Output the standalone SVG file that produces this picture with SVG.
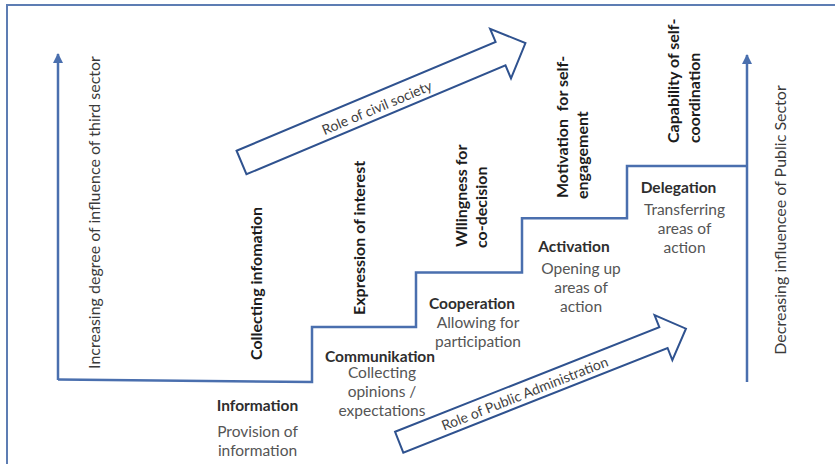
<svg xmlns="http://www.w3.org/2000/svg" width="835" height="464" viewBox="0 0 835 464">
<style>
.line{fill:none;stroke:#4a6fae;stroke-width:2.5}
.frame{fill:none;stroke:#5d7db3;stroke-width:2}
.blk{fill:#ffffff;stroke:#2f528f;stroke-width:2;stroke-linejoin:miter}
.t{font-family:Lato,"Open Sans","Liberation Sans",sans-serif}
.axis{font-size:16px;fill:#3a3a3a}
.rot{font-size:16px;font-weight:bold;fill:#1c1c1c}
.head{font-size:15.5px;font-weight:bold;fill:#2e2e2e;text-anchor:middle}
.body{font-size:15.5px;fill:#555555;text-anchor:middle}
.arr{font-size:14px;fill:#3f3f3f;text-anchor:middle}
</style>
<defs>
<marker id="ah" viewBox="0 0 10 10" refX="9" refY="5" markerWidth="4" markerHeight="4" orient="auto" markerUnits="strokeWidth">
<path d="M0,0 L10,5 L0,10 Z" fill="#4a6fae"/>
</marker>
</defs>
<rect width="835" height="464" fill="#ffffff"/>
<path class="frame" d="M7,470 L7,5 L840,5"/>

<g id="connectors">
<path class="line" d="M58,379.5 L312,382 L312,327 L416,327 L416,272.5 L522,272.5 L522,218.3 L627,218.3 L627,166 L747,166" />
<line id="left-axis" class="line" x1="58" y1="380" x2="58" y2="54" marker-end="url(#ah)"/>
<line id="right-axis" class="line" x1="747" y1="382" x2="747" y2="55" marker-end="url(#ah)"/>
</g>

<g id="axis-left">
<text class="t axis" transform="translate(100,212.5) rotate(-90)" text-anchor="middle">Increasing degree of influence of third sector</text>
</g>
<g id="axis-right">
<text class="t axis" transform="translate(786,220) rotate(-90)" text-anchor="middle">Decreasing influencee of Public Sector</text>
</g>

<g id="arrow-civil" transform="translate(241.5,162.5) rotate(-22.8)">
<path class="blk" d="M0,-12.75 L281,-12.75 L281,-27 L308,0 L281,27 L281,12.75 L0,12.75 Z"/>
<text class="t arr" x="146" y="7">Role of civil society</text>
</g>
<g id="arrow-public" transform="translate(399.2,442.2) rotate(-21.6)">
<path class="blk" d="M0,-11.2 L284.2,-11.2 L284.2,-24.2 L308.4,0 L284.2,24.2 L284.2,11.2 L0,11.2 Z"/>
<text class="t arr" x="134.7" y="6">Role of Public Administration</text>
</g>

<g id="label-collecting">
<text class="t rot" transform="translate(262,360) rotate(-90)">Collecting infomation</text>
</g>
<g id="label-expression">
<text class="t rot" transform="translate(365,315) rotate(-90)">Expression of interest</text>
</g>
<g id="label-willingness">
<text class="t rot" transform="translate(467,247) rotate(-90)">Wllingness for</text>
<text class="t rot" transform="translate(487,248) rotate(-90)">co-decision</text>
</g>
<g id="label-motivation">
<text class="t rot" transform="translate(568,198) rotate(-90)" xml:space="preserve">Motivation  for self-</text>
<text class="t rot" transform="translate(588,199) rotate(-90)">engagement</text>
</g>
<g id="label-capability">
<text class="t rot" transform="translate(679,143) rotate(-90)">Capability of self-</text>
<text class="t rot" transform="translate(700,143) rotate(-90)">coordination</text>
</g>

<g id="step-information">
<text class="t head" x="257.5" y="411">Information</text>
<text class="t body" x="257.5" y="437">Provision of</text>
<text class="t body" x="257.5" y="456">information</text>
</g>
<g id="step-communikation">
<text class="t head" x="380" y="361.5">Communikation</text>
<text class="t body" x="382" y="378">Collecting</text>
<text class="t body" x="382" y="397">opinions /</text>
<text class="t body" x="382" y="416">expectations</text>
</g>
<g id="step-cooperation">
<text class="t head" x="472" y="308.5">Cooperation</text>
<text class="t body" x="478" y="327.5">Allowing for</text>
<text class="t body" x="478" y="346.5">participation</text>
</g>
<g id="step-activation">
<text class="t head" x="574" y="251.5">Activation</text>
<text class="t body" x="581" y="274">Opening up</text>
<text class="t body" x="581" y="293">areas of</text>
<text class="t body" x="581" y="312">action</text>
</g>
<g id="step-delegation">
<text class="t head" x="678.5" y="193">Delegation</text>
<text class="t body" x="684.5" y="215">Transferring</text>
<text class="t body" x="684.5" y="234">areas of</text>
<text class="t body" x="684.5" y="253">action</text>
</g>
</svg>
